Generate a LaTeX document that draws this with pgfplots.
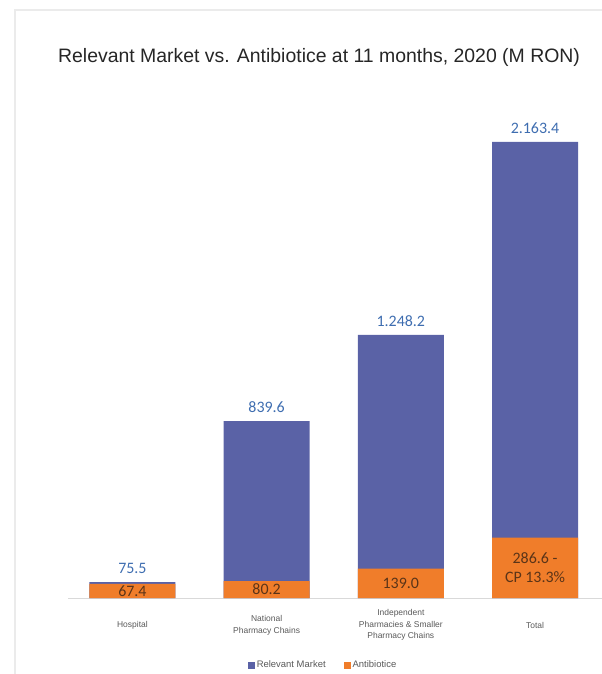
\documentclass[border=0pt]{standalone}
\usepackage{pgfplots}
\pgfplotsset{compat=1.18}
\usepackage{fontspec}
\setmainfont{Liberation Sans}
\newfontfamily\calib{Carlito}

\definecolor{mktblue}{HTML}{5A62A6}
\definecolor{abxorange}{HTML}{F07D2A}
\definecolor{lblblue}{HTML}{3E6DB0}
\definecolor{lbldark}{HTML}{5A3418}
\definecolor{txtgray}{HTML}{595959}

\begin{document}
\begin{tikzpicture}
\useasboundingbox (0,0) rectangle (602bp,674bp);
\draw[black!8, line width=1.2bp] (15bp,0) -- (15bp,664bp) -- (602bp,664bp);
\begin{axis}[
	at={(68bp,76bp)}, anchor=south west,
	scale only axis,
	x=134.2bp, y=0.2108bp,
	xmin=-0.48, xmax=3.5,
	ymin=0, ymax=2400,
	axis y line=none,
	axis x line*=bottom,
	x axis line style={draw=black!15, line width=0.8bp, -},
	xtick=data,
	xtick style={draw=none},
	xticklabels={Hospital, National\\Pharmacy Chains, Independent\\Pharmacies \& Smaller\\Pharmacy Chains, Total},
	xticklabel style={font=\fontsize{8.5}{11.5}\selectfont, text=txtgray, align=center, anchor=center, yshift=-23bp},
	title={Relevant Market vs. Antibiotice at 11 months, 2020 (M RON)},
	title style={font=\fontsize{19.5}{22}\selectfont, text=black!85, at={(0.5,1)}, anchor=center, yshift=29bp, xshift=-16bp},
	ybar, bar width=86bp, bar shift=0pt,
	legend style={at={(0.5,0)}, anchor=center, yshift=-67bp, xshift=-12bp, draw=none, fill=none,
		font=\fontsize{9.5}{11}\selectfont, text=txtgray, legend columns=2,
		/tikz/every even column/.append style={column sep=16bp}},
	legend image code/.code={\fill[#1] (0bp,-3.5bp) rectangle (7bp,3.5bp);},
	clip=false,
]
\addplot[fill=mktblue, draw=none,
	point meta=explicit symbolic,
	nodes near coords,
	every node near coord/.append style={font=\calib\fontsize{16}{18}\selectfont, text=lblblue, anchor=south, yshift=5bp}]
	coordinates {(0,75.5) [75.5] (1,839.6) [839.6] (2,1248.2) [1.248.2] (3,2163.4) [2.163.4]};
\addlegendentry{Relevant Market}
\addplot[fill=abxorange, draw=none,
	point meta=explicit symbolic,
	visualization depends on={y \as \rawy},
	nodes near coords,
	every node near coord/.append style={font=\calib\fontsize{16}{19}\selectfont, text=lbldark, anchor=center, align=center, yshift={-0.1058*\rawy}}]
	coordinates {(0,67.4) [67.4] (1,80.2) [80.2] (2,139.0) [139.0] (3,286.6) [{286.6 -\\CP 13.3\%}]};
\addlegendentry{Antibiotice}
\end{axis}
\end{tikzpicture}
\end{document}
